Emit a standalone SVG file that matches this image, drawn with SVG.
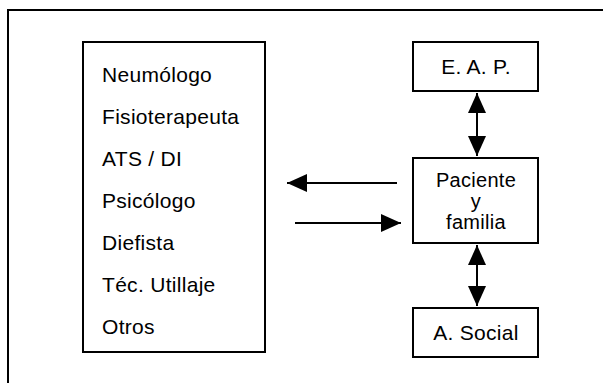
<svg xmlns="http://www.w3.org/2000/svg" width="603" height="383" viewBox="0 0 603 383">
<defs>
<marker id="ah" markerUnits="userSpaceOnUse" markerWidth="22" markerHeight="20" refX="20" refY="9" orient="auto-start-reverse">
<path d="M0,0 L20,9 L0,18 Z" fill="#000"/>
</marker>
<style>
.box{fill:#fff;stroke:#000;stroke-width:2}
.t{font-family:"Liberation Sans",Arial,sans-serif;font-size:21px;fill:#000;letter-spacing:0.3px}
.c{text-anchor:middle}
.s{font-size:20px}
.ln{stroke:#000;stroke-width:2;fill:none}
</style>
</defs>
<rect width="603" height="383" fill="#fff"/>
<path class="ln" d="M8,383 L8,10 L603,10"/>
<g id="equipo">
<rect class="box" x="83" y="42" width="182" height="310"/>
<text class="t" x="102" y="82">Neumólogo</text>
<text class="t" x="102" y="124">Fisioterapeuta</text>
<text class="t" x="102" y="166">ATS / DI</text>
<text class="t" x="102" y="208">Psicólogo</text>
<text class="t" x="102" y="250">Diefista</text>
<text class="t" x="102" y="292">Téc. Utillaje</text>
<text class="t" x="102" y="334">Otros</text>
</g>
<g id="eap">
<rect class="box" x="413" y="42" width="125" height="49"/>
<text class="t c" x="476" y="74">E. A. P.</text>
</g>
<g id="paciente">
<rect class="box" x="413" y="158" width="125" height="85"/>
<text class="t c s" x="476" y="187">Paciente</text>
<text class="t c s" x="476" y="208">y</text>
<text class="t c s" x="476" y="229">familia</text>
</g>
<g id="social">
<rect class="box" x="413" y="308" width="125" height="49"/>
<text class="t c" x="476" y="340">A. Social</text>
</g>
<g id="connectors">
<line class="ln" x1="477" y1="93" x2="477" y2="156" marker-start="url(#ah)" marker-end="url(#ah)"/>
<line class="ln" x1="477" y1="245" x2="477" y2="306" marker-start="url(#ah)" marker-end="url(#ah)"/>
<line class="ln" x1="397" y1="183" x2="287" y2="183" marker-end="url(#ah)"/>
<line class="ln" x1="295" y1="223" x2="401" y2="223" marker-end="url(#ah)"/>
</g>
</svg>
